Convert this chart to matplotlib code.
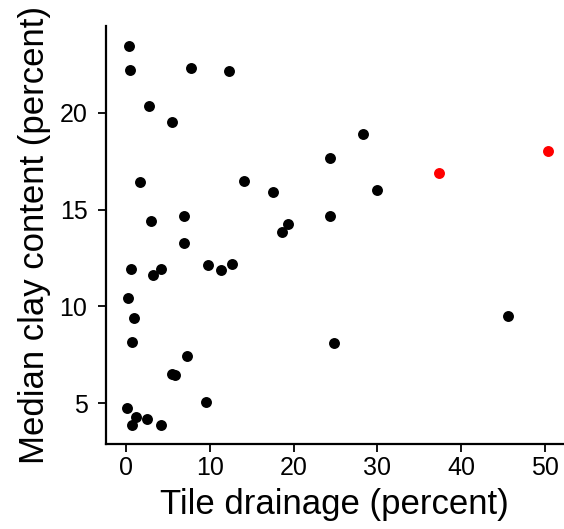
import matplotlib
matplotlib.use("Agg")
import matplotlib.pyplot as plt

plt.rcParams['font.family'] = ['Liberation Sans', 'DejaVu Sans']

tile_black = [0.36, 0.44, 7.68, 12.22, 2.67, 5.5, 24.37, 1.63, 14.1, 17.52,
              2.9, 6.93, 19.32, 18.6, 24.4, 6.85, 0.6, 3.14, 4.1, 9.76,
              11.35, 12.58, 0.24, 0.92, 0.68, 24.85, 7.29, 5.5, 5.8, 9.56,
              0.04, 1.2, 2.5, 0.72, 4.18, 28.23, 29.99, 45.6]
clay_black = [23.47, 22.21, 22.33, 22.14, 20.34, 19.51, 17.64, 16.43, 16.47, 15.91,
              14.42, 14.68, 14.25, 13.85, 14.65, 13.27, 11.92, 11.64, 11.95, 12.16,
              11.87, 12.18, 10.41, 9.39, 8.18, 8.11, 7.42, 6.5, 6.47, 5.05,
              4.74, 4.29, 4.19, 3.86, 3.89, 18.92, 16.03, 9.48]
tile_red = [37.4, 50.45]
clay_red = [16.9, 18.04]

xticks = [0, 10, 20, 30, 40, 50]
yticks = [5, 10, 15, 20]

fig = plt.figure(figsize=(5.64, 5.29), dpi=100)
left, right, bottom, top = 105.5 / 564, 563 / 564, (529 - 444) / 529, (529 - 26) / 529
ax = fig.add_axes([left, bottom, right - left, top - bottom])
ax.scatter(tile_black, clay_black, s=62, color='black', linewidths=0, zorder=3)
ax.scatter(tile_red, clay_red, s=62, color='red', linewidths=0, zorder=3)

ax.set_xlim(-2.5, 52.2)
ax.set_ylim(2.89, 24.48)
ax.set_xticks(xticks)
ax.set_yticks(yticks)
for s in ['top', 'right']:
    ax.spines[s].set_visible(False)
for s in ['left', 'bottom']:
    ax.spines[s].set_linewidth(1.6)
ax.tick_params(axis='both', length=6, width=1.3, labelsize=18, colors='black')
ax.tick_params(axis='x', pad=2.5)
ax.tick_params(axis='y', pad=7)
ax.set_xlabel('Tile drainage (percent)', fontsize=25, labelpad=6)
ax.set_ylabel('Median clay content (percent)', fontsize=25, labelpad=6)

fig.savefig('out.png', dpi=100)
